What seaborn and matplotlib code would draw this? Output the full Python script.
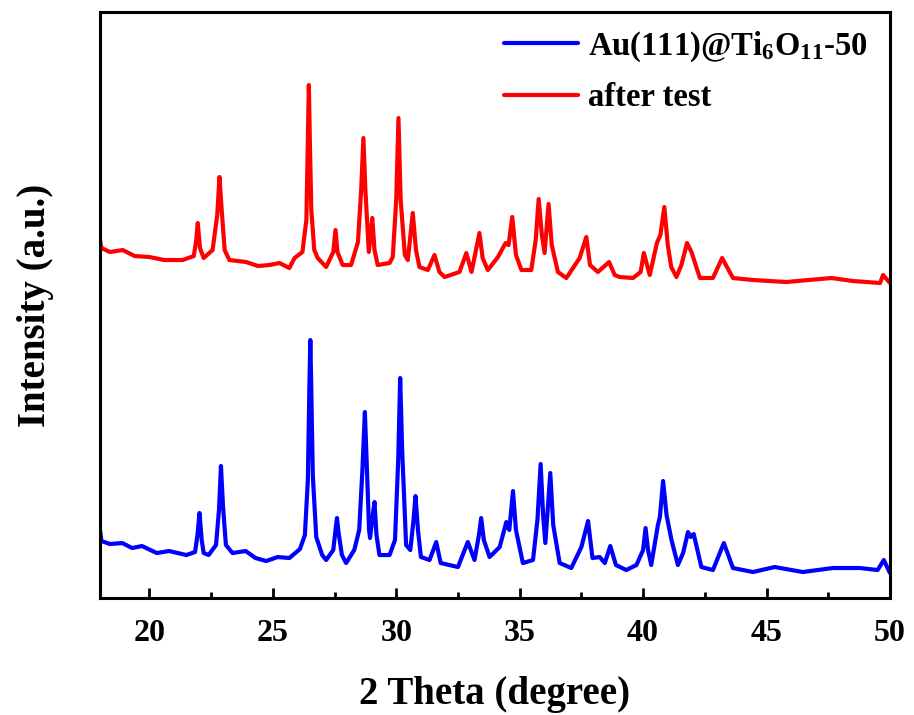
import pandas as pd
import seaborn as sns
import matplotlib.pyplot as plt
import matplotlib.ticker as mticker

# XRD patterns, intensity in arbitrary units
theta_fresh = [
    18.00, 18.06, 18.4, 18.9, 19.3, 19.7, 20.3, 20.8, 21.5, 21.85, 21.95, 22.03,
    22.12, 22.2, 22.4, 22.7, 22.82, 22.9, 22.98, 23.1, 23.37, 23.9, 24.3, 24.73,
    25.2, 25.67, 26.1, 26.3, 26.42, 26.48, 26.52, 26.56, 26.62, 26.76, 27.0, 27.16,
    27.45, 27.54, 27.6, 27.66, 27.8, 27.97, 28.3, 28.5, 28.63, 28.73, 28.8, 28.9,
    28.94, 29.05, 29.12, 29.2, 29.32, 29.73, 29.95, 30.08, 30.16, 30.24, 30.4, 30.57,
    30.7, 30.78, 30.88, 31.0, 31.35, 31.62, 31.8, 32.5, 32.9, 33.17, 33.35, 33.44,
    33.55, 33.78, 34.19, 34.46, 34.58, 34.73, 34.85, 35.13, 35.54, 35.72, 35.85, 35.95,
    36.04, 36.24, 36.36, 36.62, 37.09, 37.5, 37.77, 37.95, 38.24, 38.45, 38.67, 38.9,
    39.32, 39.73, 40.0, 40.1, 40.2, 40.33, 40.6, 40.68, 40.81, 40.95, 41.15, 41.41,
    41.62, 41.82, 41.93, 42.05, 42.36, 42.83, 43.27, 43.64, 44.45, 45.33, 46.47, 47.68,
    48.78, 49.5, 49.75, 50.0,
]
int_fresh = [
    68, 57, 54, 55, 50, 52, 45, 47, 43, 46, 63, 85,
    58, 45, 43, 53, 88, 132, 93, 53, 45, 47, 40, 37,
    41, 40, 49, 63, 118, 208, 258, 208, 123, 61, 43, 38,
    48, 68, 80, 66, 43, 35, 48, 68, 128, 186, 138, 68,
    60, 83, 96, 63, 43, 43, 58, 138, 220, 148, 53, 48,
    78, 102, 68, 41, 38, 56, 35, 31, 56, 38, 63, 80,
    58, 41, 51, 76, 68, 107, 68, 35, 38, 78, 134, 83,
    55, 125, 73, 35, 30, 51, 77, 40, 41, 35, 52, 33,
    28, 33, 48, 70, 48, 33, 73, 81, 117, 83, 58, 33,
    45, 66, 61, 64, 31, 28, 55, 30, 26, 31, 26, 30,
    30, 28, 38, 25,
]

theta_after = [
    18.00, 18.06, 18.4, 18.92, 19.4, 20.0, 20.6, 21.35, 21.8, 21.9, 21.96, 22.05,
    22.2, 22.56, 22.75, 22.84, 22.93, 23.05, 23.24, 23.92, 24.4, 24.86, 25.27, 25.67,
    25.88, 26.2, 26.36, 26.42, 26.46, 26.5, 26.56, 26.68, 26.82, 27.16, 27.45, 27.54,
    27.62, 27.83, 28.17, 28.45, 28.58, 28.67, 28.75, 28.89, 29.03, 29.12, 29.25, 29.73,
    29.86, 30.0, 30.09, 30.18, 30.35, 30.47, 30.67, 30.8, 30.94, 31.28, 31.55, 31.75,
    31.96, 32.56, 32.84, 33.05, 33.37, 33.5, 33.71, 34.12, 34.43, 34.55, 34.7, 34.85,
    35.07, 35.47, 35.65, 35.77, 35.9, 36.01, 36.17, 36.3, 36.55, 36.89, 37.43, 37.7,
    37.85, 38.17, 38.62, 38.85, 39.05, 39.59, 39.9, 40.03, 40.27, 40.56, 40.7, 40.86,
    41.0, 41.14, 41.35, 41.55, 41.78, 41.96, 42.3, 42.83, 43.2, 43.64, 44.45, 45.8,
    46.7, 47.63, 48.5, 49.6, 49.72, 50.0,
]
int_after = [
    358, 350, 346, 348, 342, 341, 338, 338, 342, 358, 375, 350,
    340, 348, 383, 421, 388, 348, 338, 336, 332, 333, 335, 330,
    340, 346, 378, 458, 513, 458, 388, 348, 340, 331, 346, 368,
    346, 333, 333, 356, 408, 460, 408, 346, 380, 348, 333, 335,
    341, 398, 480, 398, 343, 338, 385, 348, 331, 328, 343, 326,
    321, 326, 345, 326, 365, 340, 328, 341, 355, 353, 381, 343,
    328, 328, 358, 399, 363, 345, 394, 353, 326, 320, 340, 361,
    333, 326, 336, 323, 321, 320, 326, 345, 323, 355, 363, 391,
    353, 331, 321, 333, 355, 346, 320, 320, 340, 320, 318, 316,
    318, 320, 317, 315, 323, 315,
]

series_names = ["Au(111)@Ti$_6$O$_{11}$-50", "after test"]
series_colors = ["#0000FF", "#FF0000"]

df = pd.concat([
    pd.DataFrame({"theta": theta_fresh, "intensity": int_fresh, "sample": series_names[0]}),
    pd.DataFrame({"theta": theta_after, "intensity": int_after, "sample": series_names[1]}),
], ignore_index=True)

sns.set_style("ticks")
plt.rcParams["font.family"] = ["Liberation Serif", "DejaVu Serif"]
plt.rcParams["font.weight"] = "bold"
plt.rcParams["text.color"] = "black"
plt.rcParams["axes.labelcolor"] = "black"
plt.rcParams["xtick.color"] = "black"
plt.rcParams["axes.edgecolor"] = "black"
plt.rcParams["mathtext.fontset"] = "custom"
plt.rcParams["mathtext.rm"] = "Liberation Serif:bold"
plt.rcParams["mathtext.it"] = "Liberation Serif:bold"
plt.rcParams["mathtext.bf"] = "Liberation Serif:bold"

fig = plt.figure(figsize=(9.14, 7.15), dpi=100)
ax = fig.add_axes([0.1094, 0.1636, 0.8643, 0.8196])

sns.lineplot(data=df, x="theta", y="intensity", hue="sample",
             hue_order=series_names, palette=dict(zip(series_names, series_colors)),
             estimator=None, sort=False, linewidth=3.0, ax=ax)

ax.set_xlim(18, 50)
ax.set_ylim(0, 586)
ax.xaxis.set_major_locator(mticker.MultipleLocator(5))
ax.xaxis.set_minor_locator(mticker.MultipleLocator(2.5))
ax.set_yticks([])
ax.tick_params(axis="x", which="major", direction="in", length=7, width=2,
               labelsize=23, pad=15, colors="black")
ax.tick_params(axis="x", which="minor", direction="in", length=4, width=2)
for lab in ax.get_xticklabels():
    lab.set_fontweight("bold")
for sp in ax.spines.values():
    sp.set_linewidth(2.2)
    sp.set_color("black")
    sp.set_visible(True)

ax.set_xlabel("2 Theta (degree)", fontsize=28, fontweight="bold", labelpad=20)
ax.set_ylabel("Intensity (a.u.)", fontsize=28, fontweight="bold", labelpad=33)

ax.legend(loc="upper left", bbox_to_anchor=(0.474, 1.02), frameon=False,
          handlelength=2.28, handletextpad=0.3, labelspacing=0.55,
          prop={"weight": "bold", "size": 23.5})

fig.savefig("out.png", dpi=100)
